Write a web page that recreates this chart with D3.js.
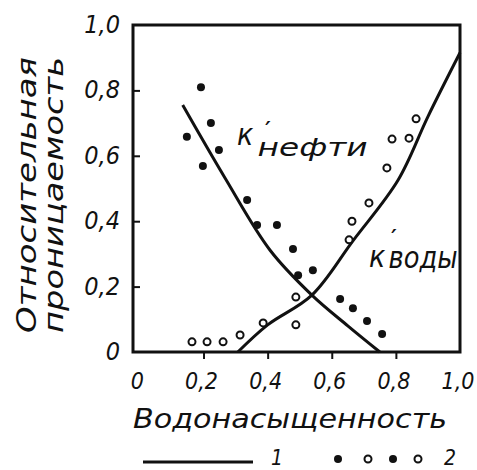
<!DOCTYPE html>
<html>
<head>
<meta charset="utf-8">
<script src="https://cdn.jsdelivr.net/npm/d3@7"></script>
<style>
  body { margin: 0; background: #fff; }
  text { font-family: "DejaVu Sans Condensed", "DejaVu Sans", sans-serif; font-style: italic; font-stretch: condensed; fill: #111; }
</style>
</head>
<body>
<div id="chart"></div>
<script>
// значения
var tickValues = [0, 0.2, 0.4, 0.6, 0.8, 1.0];
var tickLabels = ["0", "0,2", "0,4", "0,6", "0,8", "1,0"];

// 1 - кривые
var oilCurve = [[0.135, 0.755], [0.267, 0.532], [0.407, 0.312], [0.538, 0.174], [0.65, 0.08], [0.75, 0]];
var waterCurve = [[0.307, 0], [0.40, 0.083], [0.538, 0.174], [0.666, 0.34], [0.807, 0.526], [0.90, 0.72], [1.0, 0.915]];

// 2 - опыты
var oilPoints = [[0.148, 0.658], [0.192, 0.81], [0.198, 0.569], [0.223, 0.70], [0.248, 0.618], [0.336, 0.465],
  [0.367, 0.388], [0.429, 0.388], [0.479, 0.315], [0.495, 0.235], [0.541, 0.25], [0.626, 0.162],
  [0.666, 0.134], [0.71, 0.095], [0.757, 0.055]];
var waterPoints = [[0.164, 0.031], [0.211, 0.031], [0.261, 0.031], [0.314, 0.052], [0.386, 0.089], [0.488, 0.083],
  [0.488, 0.168], [0.654, 0.343], [0.663, 0.40], [0.716, 0.456], [0.772, 0.563], [0.788, 0.651],
  [0.841, 0.654], [0.863, 0.713]];

var width = 477, height = 470;
var svg = d3.select('#chart').append('svg')
    .attr('width', width)
    .attr('height', height);

var x = d3.scaleLinear().domain([-0.02, 1]).range([133, 460]);
var y = d3.scaleLinear().domain([0, 1]).range([352, 25]);

// рамка
svg.append("rect")
    .attr("x", x(-0.02)).attr("y", y(1))
    .attr("width", x(1) - x(-0.02)).attr("height", y(0) - y(1))
    .attr("fill", "none").attr("stroke", "#111").attr("stroke-width", 3);

// засечки
svg.append("g")
    .attr("transform", "translate(0," + y(0) + ")")
    .call(d3.axisBottom(x).tickValues(tickValues.slice(1, -1)).tickSize(7).tickFormat(""))
    .call(function(g) { g.select(".domain").remove(); })
    .selectAll("line").attr("stroke", "#111").attr("stroke-width", 2);

svg.append("g")
    .attr("transform", "translate(" + x(-0.02) + ",0)")
    .call(d3.axisRight(y).tickValues(tickValues.slice(1, -1)).tickSize(7).tickFormat(""))
    .call(function(g) { g.select(".domain").remove(); })
    .selectAll("line").attr("stroke", "#111").attr("stroke-width", 2);

// подписи делений
svg.append("g").selectAll("text")
    .data(tickValues)
  .enter().append("text")
    .attr("x", function(d) { return x(d) - 2; })
    .attr("y", 389)
    .attr("text-anchor", "middle")
    .attr("font-size", 23)
    .text(function(d, i) { return tickLabels[i]; });

svg.append("g").selectAll("text")
    .data(tickValues)
  .enter().append("text")
    .attr("x", 120)
    .attr("y", function(d) { return y(d) + 8; })
    .attr("text-anchor", "end")
    .attr("font-size", 25)
    .text(function(d, i) { return tickLabels[i]; });

// кривые
var line = d3.line()
    .x(function(d) { return x(d[0]); })
    .y(function(d) { return y(d[1]); })
    .curve(d3.curveCatmullRom.alpha(0.5));

svg.append("path").datum(oilCurve)
    .attr("d", line).attr("fill", "none").attr("stroke", "#111").attr("stroke-width", 3);
svg.append("path").datum(waterCurve)
    .attr("d", line).attr("fill", "none").attr("stroke", "#111").attr("stroke-width", 3);

// точки
svg.append("g").selectAll("circle")
    .data(oilPoints)
  .enter().append("circle")
    .attr("cx", function(d) { return x(d[0]); })
    .attr("cy", function(d) { return y(d[1]); })
    .attr("r", 4)
    .attr("fill", "#111");

svg.append("g").selectAll("circle")
    .data(waterPoints)
  .enter().append("circle")
    .attr("cx", function(d) { return x(d[0]); })
    .attr("cy", function(d) { return y(d[1]); })
    .attr("r", 3.5)
    .attr("fill", "#fff")
    .attr("stroke", "#111")
    .attr("stroke-width", 2);

// надписи у кривых: к' с индексом, одним куском текста (сдвиги dx/dy)
function curveLabel(x0, y0, o) {
  var t = svg.append("text").attr("x", x0).attr("y", y0);
  t.append("tspan").attr("font-size", 30).text("к");
  t.append("tspan").attr("font-size", 22).attr("font-weight", "bold")
      .attr("dx", o.pdx).attr("dy", o.pdy).text("′");
  t.append("tspan").attr("font-size", o.size)
      .attr("dx", o.sdx).attr("dy", -o.pdy + o.sdy)
      .attr("textLength", o.len).attr("lengthAdjust", "spacingAndGlyphs")
      .text(o.text);
}
curveLabel(237, 145, {text: "нефти", size: 25, pdx: 12, pdy: -8, sdx: -13, sdy: 11, len: 110});
curveLabel(369, 267, {text: "воды", size: 30, pdx: 6, pdy: -22, sdx: -8, sdy: 1, len: 69});

// названия осей
svg.append("text")
    .attr("x", 290).attr("y", 428)
    .attr("text-anchor", "middle")
    .attr("font-size", 27)
    .attr("textLength", 314).attr("lengthAdjust", "spacingAndGlyphs")
    .text("Водонасыщенность");

var yTitle = svg.append("g").attr("transform", "translate(0,195) rotate(-90)");
yTitle.append("text")
    .attr("x", 0).attr("y", 36)
    .attr("text-anchor", "middle")
    .attr("font-size", 26)
    .attr("textLength", 276).attr("lengthAdjust", "spacingAndGlyphs")
    .text("Относительная");
yTitle.append("text")
    .attr("x", 0).attr("y", 63)
    .attr("text-anchor", "middle")
    .attr("font-size", 26)
    .attr("textLength", 276).attr("lengthAdjust", "spacingAndGlyphs")
    .text("проницаемость");

// легенда
var legend = svg.append("g");
legend.append("line")
    .attr("x1", 143).attr("x2", 253).attr("y1", 462).attr("y2", 462)
    .attr("stroke", "#111").attr("stroke-width", 3);
legend.append("text").attr("x", 277).attr("y", 465).attr("text-anchor", "middle").attr("font-size", 21).text("1");
legend.selectAll("circle")
    .data([true, false, true, false])
  .enter().append("circle")
    .attr("cx", function(d, i) { return [338, 368, 393, 418][i]; })
    .attr("cy", 459)
    .attr("r", function(d) { return d ? 4 : 3.5; })
    .attr("fill", function(d) { return d ? "#111" : "#fff"; })
    .attr("stroke", function(d) { return d ? "none" : "#111"; })
    .attr("stroke-width", 2);
legend.append("text").attr("x", 450).attr("y", 465).attr("text-anchor", "middle").attr("font-size", 21).text("2");
</script>
</body>
</html>
